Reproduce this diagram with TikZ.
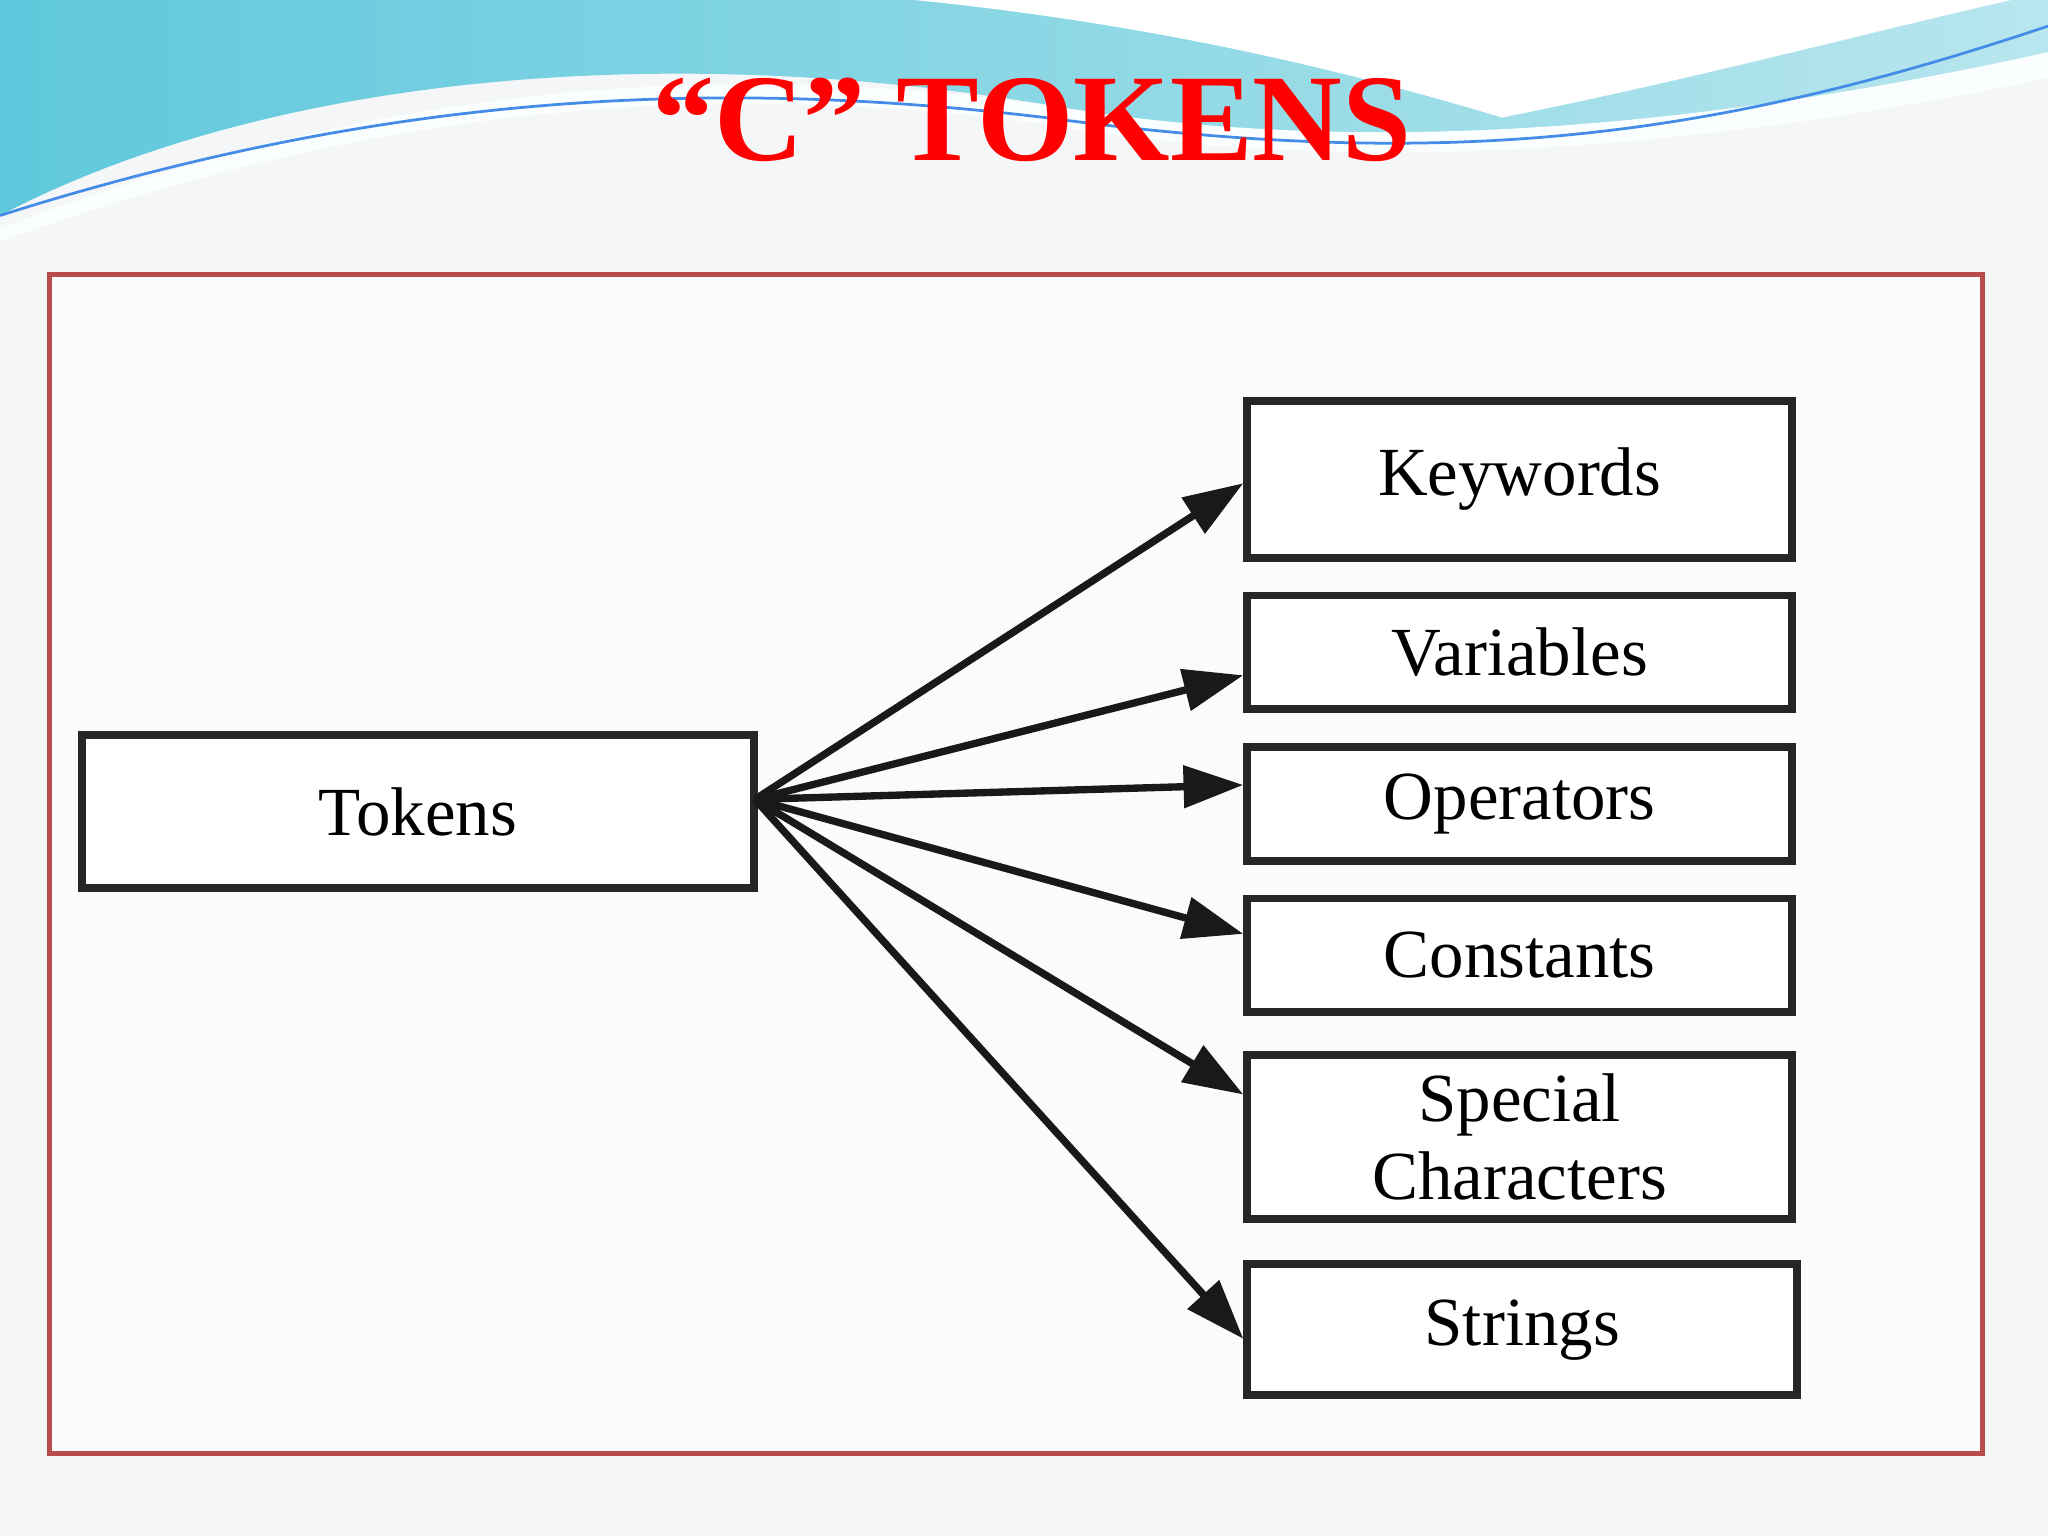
\documentclass[tikz,border=0pt]{standalone}
\usepackage{fontspec}
\setmainfont{Liberation Serif}
\usetikzlibrary{arrows.meta}
\definecolor{bg}{HTML}{F5F6F8}
\definecolor{wave1}{HTML}{5FC8DC}
\definecolor{wave2}{HTML}{B8E6EE}
\tikzset{
  box/.style={draw=black!85, line width=1.7pt, fill=white, font=\fontsize{15}{17}\selectfont, align=center, inner sep=0pt},
  arr/.style={line width=1.6pt, draw=black!90, -{Triangle[length=13pt,width=9pt]}}
}
\begin{document}
\begin{tikzpicture}[x=0.01cm,y=-0.01cm]
\fill[bg] (0,0) rectangle (1568,1176);
\useasboundingbox (0,0) rectangle (1568,1176);
% waves
\shade[left color=wave1, right color=wave2] (0,0) -- (1568,0) -- (1568,60) .. controls (1300,110) and (1000,120) .. (800,80) .. controls (500,30) and (200,60) .. (0,165) -- cycle;
\fill[white!95!wave2] (0,175) .. controls (250,80) and (500,40) .. (800,80) .. controls (1000,115) and (1250,110) .. (1568,40) -- (1568,60) .. controls (1250,125) and (1000,130) .. (800,95) .. controls (500,55) and (250,95) .. (0,185) -- cycle;
\fill[white] (700,0) .. controls (900,20) and (1050,60) .. (1150,90) .. controls (1300,60) and (1450,20) .. (1540,0) -- cycle;
\draw[wave1!70!blue, line width=0.6pt] (0,165) .. controls (300,70) and (550,60) .. (800,90) .. controls (1100,130) and (1300,110) .. (1568,20);
\node[text=red, font=\fontsize{27}{29}\selectfont\bfseries] (title) at (790,92) {“C” TOKENS};
% frame
\draw[fill=white!60!bg, draw=red!60!black!70, line width=1.2pt] (38,210) rectangle (1518,1113);
% boxes
\node[box, minimum width=5.14cm, minimum height=1.17cm] (tok) at (320,621.5) {Tokens};
\node[box, minimum width=4.17cm, minimum height=1.20cm] (kw) at (1163.5,367) {Keywords};
\node[box, minimum width=4.17cm, minimum height=0.87cm] (var) at (1163.5,499.5) {Variables};
\node[box, minimum width=4.17cm, minimum height=0.87cm] (op) at (1163.5,615.5) {Operators};
\node[box, minimum width=4.17cm, minimum height=0.87cm] (con) at (1163.5,731.5) {Constants};
\node[box, minimum width=4.17cm, minimum height=1.25cm] (sp) at (1163.5,870.5) {Special\\[0pt]Characters};
\node[box, minimum width=4.21cm, minimum height=1.00cm] (str) at (1165.5,1018) {Strings};
\coordinate (src) at (578,612);
\draw[arr] (src) -- (kw.west |- 0,370);
\draw[arr] (src) -- (var.west |- 0,517);
\draw[arr] (src) -- (op.west |- 0,601);
\draw[arr] (src) -- (con.west |- 0,715);
\draw[arr] (src) -- (sp.west |- 0,838);
\draw[arr] (src) -- (str.west |- 0,1025);
\end{tikzpicture}
\end{document}
